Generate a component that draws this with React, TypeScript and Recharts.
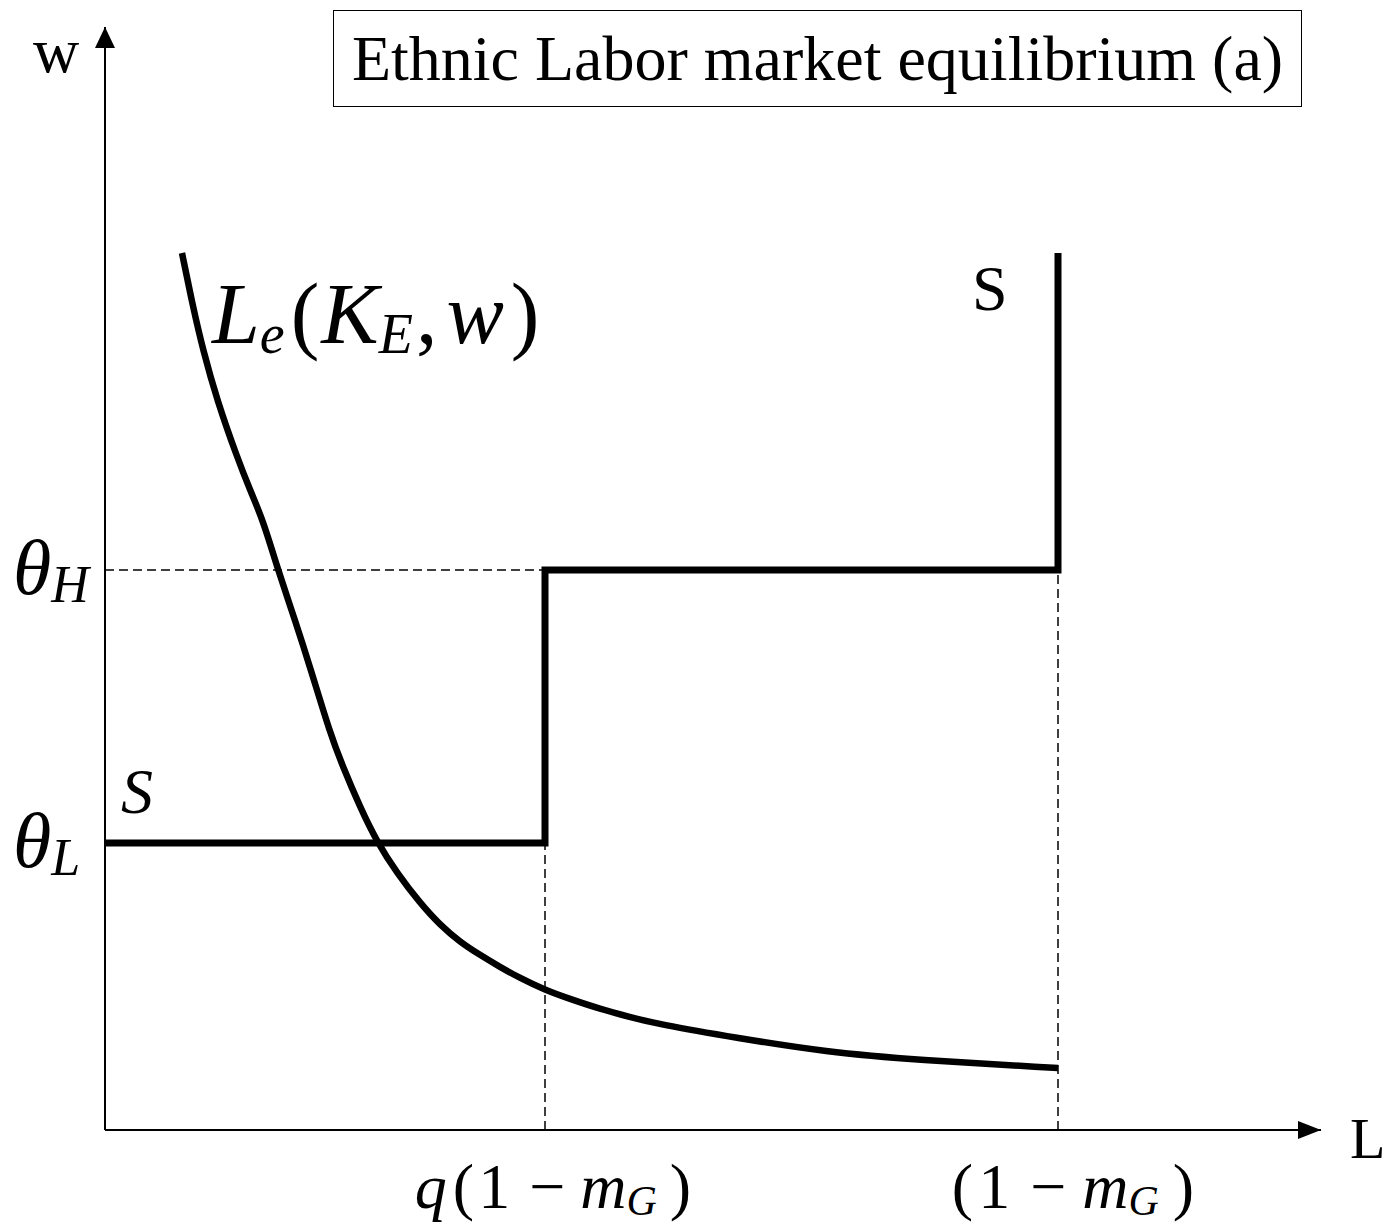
import React from "react";
import { LineChart, Line, XAxis, YAxis, ReferenceLine, ReferenceDot } from "recharts";

// L axis (labour) and w axis (wage), arbitrary diagram units
const demandL = [7.7, 8.8, 9.8, 11.2, 13.2, 14.5, 15.8, 17.3, 19.0, 20.6, 22.5, 23.8, 25.5, 27.2, 29.2, 31.5, 33.5, 35.5, 37.5, 39.5, 41.5, 44.0, 46.5, 49.5, 52.5, 55.2, 63.2, 72.1, 81.1, 95.3];
const demandW = [87.7, 82.3, 78.0, 73.0, 67.3, 64.0, 61.0, 56.0, 51.0, 46.0, 39.7, 36.3, 32.3, 28.8, 25.7, 22.7, 20.5, 18.8, 17.5, 16.3, 15.2, 14.0, 13.1, 12.1, 11.3, 10.6, 9.2, 7.8, 7.0, 6.2];

const supplyL = [0, 44.0, 44.0, 95.3, 95.3];
const supplyW = [28.7, 28.7, 56.0, 56.0, 87.7];

const xTicks = [44.0, 95.3]; // q(1-mG), (1-mG)
const yTicks = [28.7, 56.0]; // thetaL, thetaH
const xMax = 121.6;
const yMax = 110.3;

type Part = { t: string; i?: boolean; sub?: boolean; dx?: number };

const xTickLabels: Part[][] = [
  [{ t: "q", i: true }, { t: "(", dx: 6 }, { t: "1", dx: 4 }, { t: "−", dx: 19 }, { t: "m", i: true, dx: 15 }, { t: "G", i: true, sub: true }, { t: ")", dx: 13 }],
  [{ t: "(" }, { t: "1", dx: 5 }, { t: "−", dx: 20 }, { t: "m", i: true, dx: 16 }, { t: "G", i: true, sub: true }, { t: ")", dx: 14 }],
];
const yTickLabels: Part[][] = [
  [{ t: "θ", i: true }, { t: "L", i: true, sub: true }],
  [{ t: "θ", i: true }, { t: "H", i: true, sub: true }],
];
const demandLabel: Part[] = [
  { t: "L", i: true }, { t: "e", i: true, sub: true }, { t: "(", dx: 6 }, { t: "K", i: true, dx: 2 },
  { t: "E", i: true, sub: true }, { t: ",", dx: 3 }, { t: "w", i: true, dx: 9 }, { t: ")", dx: 7 },
];

const demand = demandL.map((x, i) => ({ x, y: demandW[i] }));
const supply = supplyL.map((x, i) => ({ x, y: supplyW[i] }));

const serif = "'Liberation Serif', 'Times New Roman', serif";

function MathText({ x, y, parts, size, subSize, subDy, anchor = "start" }: any) {
  let prevSub = false;
  return (
    <text x={x} y={y} fontFamily={serif} fontSize={size} fill="#000" textAnchor={anchor}>
      {parts.map((p: Part, k: number) => {
        let dy = 0;
        if (p.sub && !prevSub) dy = subDy;
        if (!p.sub && prevSub) dy = -subDy;
        prevSub = !!p.sub;
        return (
          <tspan key={k} dx={p.dx || 0} dy={dy} fontStyle={p.i ? "italic" : "normal"} fontSize={p.sub ? subSize : size}>
            {p.t}
          </tspan>
        );
      })}
    </text>
  );
}

const XTick = (props: any) => {
  const { x, y, payload } = props;
  const idx = xTicks.indexOf(payload.value);
  if (idx < 0) return null;
  const shift = idx === 0 ? 8 : 15;
  return <MathText x={x + shift} y={y + 78} parts={xTickLabels[idx]} size={64} subSize={42} subDy={7} anchor="middle" />;
};

const YTick = (props: any) => {
  const { x, y, payload } = props;
  const idx = yTicks.indexOf(payload.value);
  if (idx < 0) return null;
  return <MathText x={x - 92} y={y + 24} parts={yTickLabels[idx]} size={78} subSize={52} subDy={8} />;
};

export default function App() {
  return (
    <div style={{ position: "absolute", left: 0, top: 0, width: 1388, height: 1225, background: "#fff" }}>
      <LineChart width={1388} height={1225} margin={{ top: 27, right: 67, left: 0, bottom: 0 }}>
        <XAxis
          type="number"
          dataKey="x"
          domain={[0, xMax]}
          ticks={xTicks}
          interval={0}
          height={95}
          tickSize={0}
          tickMargin={0}
          tick={<XTick />}
          axisLine={{ stroke: "#000", strokeWidth: 2 }}
          allowDataOverflow
        />
        <YAxis
          type="number"
          domain={[0, yMax]}
          ticks={yTicks}
          interval={0}
          width={105}
          tickSize={0}
          tickMargin={0}
          tick={<YTick />}
          axisLine={{ stroke: "#000", strokeWidth: 2 }}
          allowDataOverflow
        />
        <ReferenceLine segment={[{ x: 0, y: yTicks[1] }, { x: xTicks[0], y: yTicks[1] }]} stroke="#000" strokeWidth={1.5} strokeDasharray="9 5" />
        <ReferenceLine segment={[{ x: xTicks[0], y: 0 }, { x: xTicks[0], y: yTicks[0] }]} stroke="#000" strokeWidth={1.5} strokeDasharray="9 5" />
        <ReferenceLine segment={[{ x: xTicks[1], y: 0 }, { x: xTicks[1], y: yTicks[1] }]} stroke="#000" strokeWidth={1.5} strokeDasharray="9 5" />
        <Line data={supply} dataKey="y" type="linear" stroke="#000" strokeWidth={7} strokeLinejoin="miter" dot={false} activeDot={false} isAnimationActive={false} />
        <Line data={demand} dataKey="y" type="basis" stroke="#000" strokeWidth={6.5} dot={false} activeDot={false} isAnimationActive={false} />
        {/* axis arrowheads */}
        <ReferenceDot x={0} y={yMax} r={1} ifOverflow="visible"
          shape={(p: any) => (
            <g>
              <polygon points={`${p.cx},${p.cy} ${p.cx - 10},${p.cy + 21} ${p.cx + 10},${p.cy + 21}`} fill="#000" />
              <text x={p.cx - 72} y={p.cy + 45} fontFamily={serif} fontSize={64}>w</text>
            </g>
          )}
        />
        <ReferenceDot x={xMax} y={0} r={1} ifOverflow="visible"
          shape={(p: any) => (
            <g>
              <polygon points={`${p.cx},${p.cy} ${p.cx - 23},${p.cy - 9} ${p.cx - 23},${p.cy + 9}`} fill="#000" />
              <text x={p.cx + 29} y={p.cy + 28} fontFamily={serif} fontSize={58}>L</text>
            </g>
          )}
        />
        {/* curve labels */}
        <ReferenceDot x={demandL[0]} y={demandW[0]} r={1} ifOverflow="visible"
          shape={(p: any) => <MathText x={p.cx + 30} y={p.cy + 90} parts={demandLabel} size={86} subSize={56} subDy={10} />}
        />
        <ReferenceDot x={supplyL[4]} y={supplyW[4]} r={1} ifOverflow="visible"
          shape={(p: any) => <text x={p.cx - 86} y={p.cy + 57} fontFamily={serif} fontSize={64}>S</text>}
        />
        <ReferenceDot x={supplyL[0]} y={supplyW[0]} r={1} ifOverflow="visible"
          shape={(p: any) => <text x={p.cx + 16} y={p.cy - 30} fontFamily={serif} fontStyle="italic" fontSize={64}>S</text>}
        />
      </LineChart>
      <div
        style={{
          position: "absolute", left: 333, top: 10, width: 969, height: 97, boxSizing: "border-box",
          border: "1.5px solid #000", fontFamily: serif, fontSize: 64, lineHeight: "96px", textAlign: "center", color: "#000",
        }}
      >
        Ethnic Labor market equilibrium (a)
      </div>
    </div>
  );
}
